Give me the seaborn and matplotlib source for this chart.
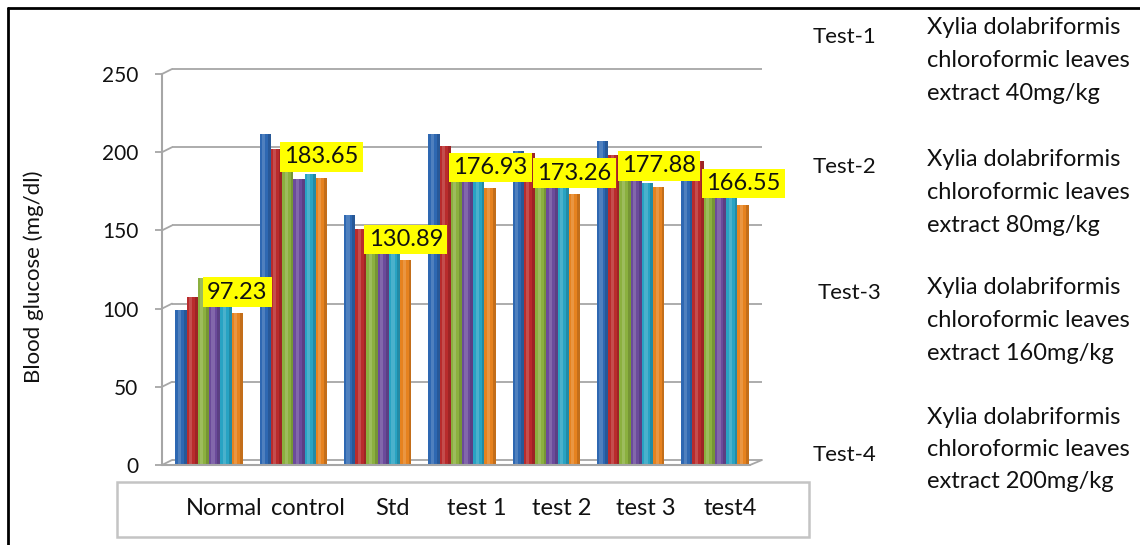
import matplotlib
matplotlib.use("Agg")
import matplotlib.pyplot as plt
from matplotlib.transforms import ScaledTranslation
from matplotlib.patches import Rectangle
from matplotlib.lines import Line2D
import seaborn as sns
import pandas as pd

# ---- data -------------------------------------------------------------
groups = ["Normal", "control", "Std", "test 1", "test 2", "test 3", "test4"]
readings = ["R1", "R2", "R3", "R4", "R5", "R6"]
r1 = [98.8, 211.6, 160.1, 211.6, 201.0, 207.2, 192.0]
r2 = [107.3, 202.0, 150.9, 203.7, 199.4, 198.4, 194.1]
r3 = [119.6, 196.0, 143.0, 193.0, 192.0, 190.0, 184.0]
r4 = [112.0, 183.1, 139.0, 186.0, 186.0, 185.0, 178.0]
r5 = [106.0, 186.3, 136.0, 182.0, 181.0, 180.3, 173.0]
r6 = [97.23, 183.65, 130.89, 176.93, 173.26, 177.88, 166.55]
y_ticks = [0, 50, 100, 150, 200, 250]
bar_colors = ["#2E68B2", "#B92B2C", "#8BB03F", "#6B4B9B", "#28A3C3", "#E6821F"]

legend_tests = ["Test-1", "Test-2", "Test-3", "Test-4"]
legend_doses = ["40mg/kg", "80mg/kg", "160mg/kg", "200mg/kg"]

series = [r1, r2, r3, r4, r5, r6]
df = pd.DataFrame(
    [(g, r, s[i]) for r, s in zip(readings, series) for i, g in enumerate(groups)],
    columns=["group", "reading", "glucose"],
)

# ---- figure -----------------------------------------------------------
W, H = 1140, 545
fig = plt.figure(figsize=(W / 100, H / 100), dpi=100)
sns.set_style("white")
plt.rcParams["font.family"] = ["Lato", "DejaVu Sans"]
fig.patch.set_facecolor("white")
txt_c = "#111111"

ax_left, ax_right, ax_bottom, ax_top = 162, 762, 465, 74
ax = fig.add_axes([ax_left / W, (H - ax_bottom) / H,
                   (ax_right - ax_left) / W, (ax_bottom - ax_top) / H])
ax.set_facecolor("none")

sns.barplot(data=df, x="group", y="glucose", hue="reading", order=groups,
            hue_order=readings, palette=bar_colors, saturation=1, width=0.8,
            legend=False, ax=ax, zorder=3, edgecolor="none")

px_per_group = 84.3
xl, xr = -47 / px_per_group, 6 + (ax_right - 715) / px_per_group
ax.set_xlim(xl, xr)
ax.set_ylim(0, 250)
px_per_unit = (ax_bottom - ax_top) / 250

# cylinder-like shading on each bar
for patch in list(ax.patches):
    x0, w, h = patch.get_x(), patch.get_width(), patch.get_height()
    ax.add_patch(Rectangle((x0 + w * 0.22, 0), w * 0.28, h, facecolor="white",
                           alpha=0.16, edgecolor="none", zorder=3.1))
    ax.add_patch(Rectangle((x0 + w * 0.75, 0), w * 0.25, h, facecolor="black",
                           alpha=0.15, edgecolor="none", zorder=3.1))

# 3D-style back wall, floor and axis
grid_c = "#A6A6A6"
dx_data = 10 / px_per_group
dy_data = 5 / px_per_unit
for v in y_ticks:
    ax.plot([xl + dx_data, xr], [v + dy_data] * 2, color=grid_c, lw=1.3,
            zorder=1, clip_on=False, solid_capstyle="butt")
    ax.plot([xl, xl + dx_data], [v, v + dy_data], color=grid_c, lw=1.3,
            zorder=1, clip_on=False)
front_end = xr - 12 / px_per_group
ax.plot([xl, front_end], [0, 0], color=grid_c, lw=1.5, zorder=4, clip_on=False)
ax.plot([front_end, xr], [0, dy_data], color=grid_c, lw=1.3, zorder=4, clip_on=False)

for s in ["top", "right", "bottom"]:
    ax.spines[s].set_visible(False)
ax.spines["left"].set_color(grid_c)
ax.spines["left"].set_linewidth(1.5)
ax.set_yticks(y_ticks)
ax.tick_params(axis="y", direction="out", length=5, width=1.3, color=grid_c,
               labelsize=15, labelcolor=txt_c, pad=12, left=True)
ax.set_xticks(range(len(groups)))
ax.set_xticklabels(groups)
ax.tick_params(axis="x", length=0, labelsize=17, labelcolor=txt_c, pad=24)
shift = ScaledTranslation(0.15, 0, fig.dpi_scale_trans)
for lab in ax.get_xticklabels():
    lab.set_transform(lab.get_transform() + shift)
ax.set_xlabel("")
ax.set_ylabel("")

# value labels on the last reading of each group
for bar, val in zip(ax.containers[-1], r6):
    xc = bar.get_x() + bar.get_width() / 2
    ax.annotate(f"{val:.2f}", xy=(xc, val), xytext=(0, 7.5),
                textcoords="offset points", ha="center", va="bottom",
                fontsize=17, color=txt_c, zorder=6,
                bbox=dict(boxstyle="square,pad=0.18", facecolor="#FFFF00",
                          edgecolor="none"))

# y-axis title
fig.text(34 / W, 1 - 277 / H, "Blood glucose (mg/dl)", rotation=90,
         ha="center", va="center", fontsize=16, color=txt_c)

# category label box
fig.add_artist(Rectangle((117 / W, (H - 537) / H), (809 - 117) / W,
                         (537 - 482) / H, transform=fig.transFigure,
                         facecolor="none", edgecolor="#C4C4C4", lw=1.8))

# test descriptions on the right
test_pos = [(813, 37), (813, 167), (818, 293), (813, 455)]
block_tops = [28, 160, 288, 417]
for name, (tx, ty), top, dose in zip(legend_tests, test_pos, block_tops, legend_doses):
    fig.text(tx / W, 1 - ty / H, name, ha="left", va="center", fontsize=16,
             color=txt_c)
    lines = ["Xylia dolabriformis", "chloroformic leaves", f"extract {dose}"]
    for k, line in enumerate(lines):
        fig.text(927 / W, 1 - (top + 32.5 * k) / H, line, ha="left",
                 va="center", fontsize=17, color=txt_c)

# outer frame (top and left edges)
fig.add_artist(Line2D([8 / W, 1], [1 - 8 / H, 1 - 8 / H],
                      transform=fig.transFigure, color="black", lw=2))
fig.add_artist(Line2D([8 / W, 8 / W], [0, 1 - 8 / H],
                      transform=fig.transFigure, color="black", lw=2))

fig.savefig("out.png", dpi=100)
